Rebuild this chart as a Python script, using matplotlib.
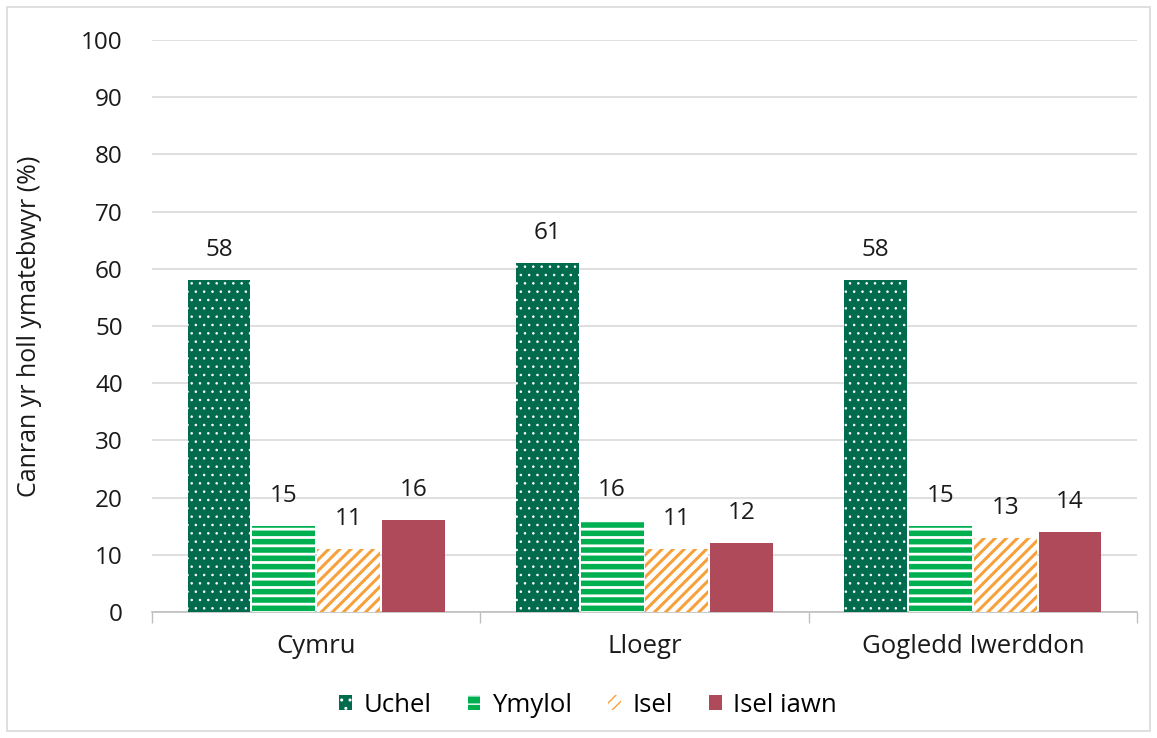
import matplotlib.pyplot as plt
import matplotlib.patches as mpatches
import numpy as np

# data
categories = ['Cymru', 'Lloegr', 'Gogledd Iwerddon']
series = ['Uchel', 'Ymylol', 'Isel', 'Isel iawn']
uchel = [58, 61, 58]
ymylol = [15, 16, 15]
isel = [11, 11, 13]
isel_iawn = [16, 12, 14]
values = [uchel, ymylol, isel, isel_iawn]
yticks = [0, 10, 20, 30, 40, 50, 60, 70, 80, 90, 100]

plt.rcParams['font.family'] = ['Open Sans', 'DejaVu Sans']

# (face, hatch colour, hatch, hatch linewidth)
styles = [
    ('#006b4d', 'white', '..', 0.6),
    ('#00b050', 'white', '--', 2.0),
    ('white', '#f7a13c', '///', 2.2),
    ('#ae4a5a', '#ae4a5a', None, 1.0),
]

fig = plt.figure(figsize=(11.57, 7.38), dpi=100)
ax = fig.add_axes([152/1157, 1 - 612/738, (1137 - 152)/1157, (612 - 40)/738])

x = np.arange(len(categories))
w = 0.197
for i, (vals, (fc, hc, hatch, hlw)) in enumerate(zip(values, styles)):
    pos = x + (i - 1.5) * w
    with plt.rc_context({'hatch.linewidth': hlw}):
        bars = ax.bar(pos, vals, width=w - 0.006, color=fc, edgecolor=hc, hatch=hatch,
                      linewidth=0, label=series[i], zorder=3)
    for b in bars:
        if hasattr(b, 'set_hatch_linewidth'):
            b.set_hatch_linewidth(hlw)
    for b, v in zip(bars, vals):
        ax.annotate(str(v), (b.get_x() + b.get_width() / 2, v), xytext=(0, 13),
                    textcoords='offset points', ha='center', va='bottom', fontsize=17.5,
                    color='#1a1a1a')

ax.set_xlim(-0.5, 2.5)
ax.set_ylim(0, 100)
ax.set_yticks(yticks)
ax.tick_params(axis='y', length=0, labelsize=17.5, pad=21, colors='#1a1a1a')
ax.yaxis.grid(True, color='#d9d9d9', linewidth=1.2, zorder=0)
ax.set_axisbelow(True)

ax.set_xticks(x)
ax.set_xticklabels(categories, fontsize=18.5, color='#1a1a1a')
ax.tick_params(axis='x', length=0, pad=16)
# category separators on the x axis
ax.set_xticks([-0.5, 0.5, 1.5, 2.5], minor=True)
ax.tick_params(axis='x', which='minor', length=8, color='#bfbfbf', width=1)

for s in ['top', 'right', 'left']:
    ax.spines[s].set_visible(False)
ax.spines['bottom'].set_color('#bfbfbf')
ax.spines['bottom'].set_linewidth(1.2)

ax.set_ylabel('Canran yr holl ymatebwyr (%)', fontsize=18, color='#1a1a1a')
ax.yaxis.set_label_coords(-(152 - 42) / (1137 - 152), 0.5)

ax.legend(loc='center', bbox_to_anchor=(588 / 1157, (738 - 705) / 738), bbox_transform=fig.transFigure,
          ncol=4, frameon=False, fontsize=18.5, handlelength=0.5, handleheight=0.5,
          handletextpad=0.45, columnspacing=1.4)

fig.patches.append(mpatches.Rectangle((7/1157, 1 - 731/738), 1143/1157, 724/738,
                                      transform=fig.transFigure, fill=False,
                                      edgecolor='#d9d9d9', linewidth=1.2))

fig.savefig('out.png', dpi=100)
